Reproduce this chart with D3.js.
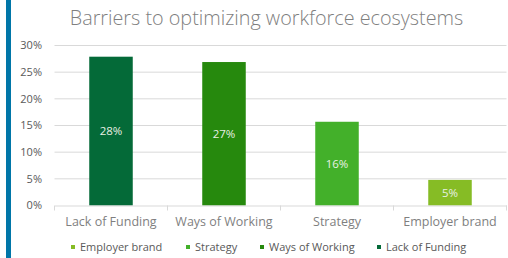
<!DOCTYPE html>
<html>
<head>
<meta charset="utf-8">
<script src="https://cdn.jsdelivr.net/npm/d3@7"></script>
<style>
  body { margin: 0; background: #fff; }
  svg { display: block; font-family: "Open Sans", sans-serif; }
</style>
</head>
<body>
<div id="chart"></div>
<script>
// Barriers chart

const categories = ['Lack of Funding', 'Ways of Working', 'Strategy', 'Employer brand'];
const values = [0.279, 0.269, 0.157, 0.048];
const colors = ['#046A38', '#26890D', '#43B02A', '#86BC25'];
const yTicks = [0, 0.05, 0.10, 0.15, 0.20, 0.25, 0.30];
const legendOrder = ['Employer brand', 'Strategy', 'Ways of Working', 'Lack of Funding'];

const width = 508, height = 258;
const margin = { top: 45.5, right: 1.5, bottom: 52.5, left: 54.5 };

const svg = d3.select('#chart').append('svg')
  .attr('width', width).attr('height', height);

// blue side stripe
svg.append('rect')
  .attr('x', 6).attr('y', 0).attr('width', 5).attr('height', height)
  .attr('fill', '#0076A8');

svg.append('text')
  .attr('x', 266.5).attr('y', 25)
  .attr('text-anchor', 'middle')
  .attr('font-size', '19.8px')
  .attr('font-weight', 300)
  .attr('fill', '#7f7f7f')
  .text('Barriers to optimizing workforce ecosystems');

const x = d3.scaleBand()
  .domain(categories)
  .range([margin.left, width - margin.right])
  .padding(0);

const y = d3.scaleLinear()
  .domain([0, 0.30])
  .range([height - margin.bottom, margin.top]);

// gridlines
svg.append('g')
  .selectAll('line')
  .data(yTicks.slice(1))
  .join('line')
    .attr('x1', margin.left).attr('x2', width - margin.right)
    .attr('y1', d => y(d)).attr('y2', d => y(d))
    .attr('stroke', '#d9d9d9');

// y axis labels
svg.append('g')
  .selectAll('text')
  .data(yTicks)
  .join('text')
    .attr('x', 42).attr('y', d => y(d))
    .attr('dy', '0.35em')
    .attr('text-anchor', 'end')
    .attr('font-size', '11px')
    .attr('fill', '#595959')
    .text(d3.format('.0%'));

// bars
const barW = x.bandwidth() * 0.385;
svg.append('g')
  .selectAll('rect')
  .data(categories)
  .join('rect')
    .attr('x', d => x(d) + (x.bandwidth() - barW) / 2)
    .attr('y', (d, i) => y(values[i]))
    .attr('width', barW)
    .attr('height', (d, i) => y(0) - y(values[i]))
    .attr('fill', (d, i) => colors[i]);

svg.append('g')
  .selectAll('text')
  .data(categories)
  .join('text')
    .attr('x', d => x(d) + x.bandwidth() / 2)
    .attr('y', (d, i) => (y(values[i]) + y(0)) / 2)
    .attr('dy', '0.35em')
    .attr('text-anchor', 'middle')
    .attr('font-size', '11.5px')
    .attr('fill', '#e8f0e4')
    .text((d, i) => d3.format('.0%')(values[i]));

// x axis
const xAxis = svg.append('g')
  .attr('transform', `translate(0,${y(0)})`)
  .call(d3.axisBottom(x).tickSize(0).tickPadding(12));
xAxis.select('.domain').attr('stroke', '#d9d9d9');
xAxis.selectAll('text').attr('font-size', '12.5px').attr('fill', '#7f7f7f')
  .attr('font-family', '"Open Sans", sans-serif');

svg.append('g')
  .selectAll('line')
  .data(categories.concat([null]))
  .join('line')
    .attr('x1', (d, i) => margin.left + i * x.step())
    .attr('x2', (d, i) => margin.left + i * x.step())
    .attr('y1', y(0)).attr('y2', y(0) + 5)
    .attr('stroke', '#d9d9d9');

// legend
const legendX = [71, 186, 260, 377];
const legend = svg.append('g')
  .selectAll('g')
  .data(legendOrder)
  .join('g')
    .attr('transform', (d, i) => `translate(${legendX[i]},247)`);
legend.append('rect')
  .attr('x', 0).attr('y', -2).attr('width', 4).attr('height', 4)
  .attr('fill', d => colors[categories.indexOf(d)]);
legend.append('text')
  .attr('x', 9).attr('dy', '0.35em')
  .attr('font-size', '11px')
  .attr('fill', '#595959')
  .text(d => d);
</script>
</body>
</html>
